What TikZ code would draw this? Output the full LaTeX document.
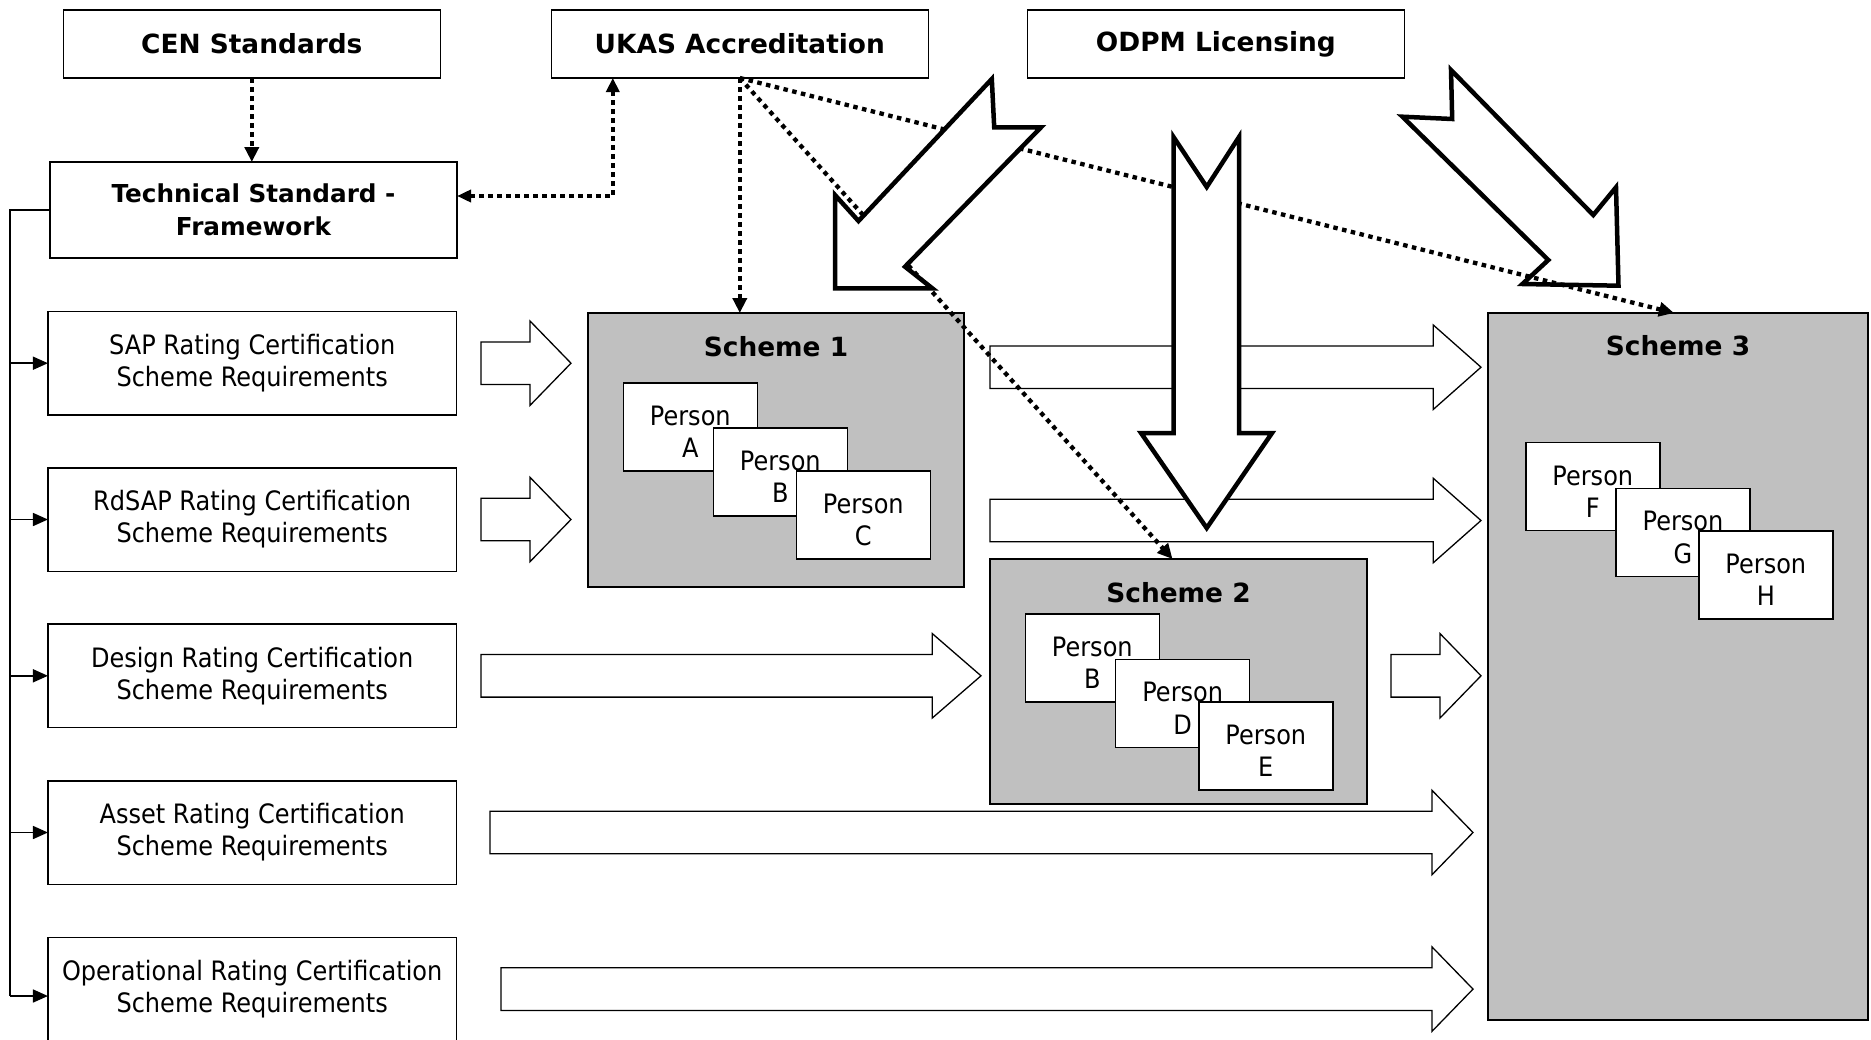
\documentclass[tikz,border=0pt]{standalone}
\usepackage{fontspec}
\usetikzlibrary{arrows.meta,calc}
\newfontfamily\regfont{DejaVu Sans}[FakeStretch=0.9]
\newfontfamily\boldfont{DejaVu Sans}
\definecolor{schemegray}{RGB}{192,192,192}
\newcommand\blkarrow[3]{\draw[blk] let \p1=#1, \p2=#2 in
  (\x1,\y1+21.3pt) -- (\x2-#3,\y1+21.3pt) -- (\x2-#3,\y1+42.2pt) -- (\x2,\y1)
  -- (\x2-#3,\y1-42.2pt) -- (\x2-#3,\y1-21.3pt) -- (\x1,\y1-21.3pt) -- cycle;}
\begin{document}
\begin{tikzpicture}[x=1pt,y=-1pt,
  every node/.style={inner sep=0pt, outer sep=0pt},
  regtext/.style={font=\regfont\fontsize{26.7}{32.2}\selectfont, align=center},
  boldtext/.style={font=\boldfont\bfseries\fontsize{26.4}{32}\selectfont, align=center},
  topbox/.style={draw, line width=1.6pt, fill=white, minimum width=377pt, minimum height=68pt, boldtext},
  techbox/.style={draw, line width=1.6pt, fill=white, minimum width=407pt, minimum height=96pt, align=center,
    font=\boldfont\bfseries\fontsize{24.7}{33.4}\selectfont},
  reqbox/.style={draw, line width=1.6pt, fill=white, minimum width=408.5pt, minimum height=103.6pt, regtext},
  scheme/.style={draw, line width=1.6pt, fill=schemegray},
  schemetitle/.style={boldtext},
  person/.style={draw, line width=1.4pt, fill=white, minimum width=134pt, minimum height=88pt,
    label={[regtext, yshift=-5pt]center:{Person\\#1}}},
  blk/.style={draw, line width=1.3pt, fill=white, line join=miter},
  bigarrow/.style={draw, line width=4.5pt, fill=white, line join=miter, miter limit=10},
  dotline/.style={line width=4.3pt, dash pattern=on 4.5pt off 4.5pt, -{Triangle[length=15pt,width=14pt]}},
  busline/.style={line width=1.6pt},
  busarrow/.style={line width=1.6pt, -{Triangle[length=15pt,width=13pt]}},
]
\useasboundingbox[fill=white] (0,0) rectangle (1871,1039);

% top boxes
\node[topbox] (cen)  at (251.8,44)  {CEN Standards};
\node[topbox] (ukas) at (739.8,44)  {UKAS Accreditation};
\node[topbox] (odpm) at (1215.9,44) {ODPM Licensing};

% left column
\node[techbox] (tech) at (253.5,210) {Technical Standard -\\Framework};
\node[reqbox] (sap)    at (252.2,363.2) {SAP Rating Certification\\Scheme Requirements};
\node[reqbox] (rdsap)  at (252.2,519.5) {RdSAP Rating Certification\\Scheme Requirements};
\node[reqbox] (design) at (252.2,675.8) {Design Rating Certification\\Scheme Requirements};
\node[reqbox] (asset)  at (252.2,832.5) {Asset Rating Certification\\Scheme Requirements};
\node[reqbox] (opbox)  at (252.2,989.1) {Operational Rating Certification\\Scheme Requirements};

% bus
\coordinate (bustop) at (10,210);
\coordinate (busbot) at (10,996);
\draw[busline] (tech.west) -- (bustop) -- (busbot);
\draw[busarrow] (busbot |- sap.west) -- (sap.west);
\draw[busarrow] (busbot |- rdsap.west) -- (rdsap.west);
\draw[busarrow] (busbot |- design.west) -- (design.west);
\draw[busarrow] (busbot |- asset.west) -- (asset.west);
\draw[busarrow] (busbot) -- (busbot -| opbox.west);

% schemes
\node[scheme, minimum width=376pt, minimum height=274pt] (s1) at (776,450) {};
\node[schemetitle] (s1t) at ($(s1.north)+(0,34)$) {Scheme 1};
\node[person=A] (pa) at (690.3,426.8) {};
\node[person=B] (pb) at (780.3,471.8) {};
\node[person=C] (pc) at (863.3,515) {};

\node[scheme, minimum width=377pt, minimum height=245pt] (s2) at (1178.5,681.5) {};
\node[schemetitle] (s2t) at ($(s2.north)+(0,34)$) {Scheme 2};
\node[person=B] (pb2) at (1092.3,657.8) {};
\node[person=D] (pd) at (1182.7,703.2) {};
\node[person=E] (pe) at (1265.8,745.8) {};

\node[scheme, minimum width=380pt, minimum height=707pt] (s3) at (1678,666.5) {};
\node[schemetitle] (s3t) at ($(s3.north)+(0,33)$) {Scheme 3};
\node[person=F] (pf) at (1592.8,486.7) {};
\node[person=G] (pg) at (1683,532.5) {};
\node[person=H] (ph) at (1765.8,574.8) {};

% small block arrows
\blkarrow{($(sap.east)+(24.5,0)$)}{($(s1.west |- sap.east)+(-17,0)$)}{41pt}
\blkarrow{($(rdsap.east)+(24.5,0)$)}{($(s1.west |- rdsap.east)+(-17,0)$)}{41pt}
\blkarrow{($(design.east)+(24.5,0)$)}{($(s2.west |- design.east)+(-9,0)$)}{48.7pt}
\blkarrow{($(asset.east)+(33.5,0)$)}{($(s3.west |- asset.east)+(-15,0)$)}{41pt}
\blkarrow{($(opbox.east)+(44.5,0)$)}{($(s3.west |- opbox.east)+(-15,0)$)}{41pt}
\blkarrow{($(s1.east |- sap.east)+(26,4)$)}{($(s3.west |- sap.east)+(-7,4)$)}{47.7pt}
\blkarrow{($(s1.east |- rdsap.east)+(26,1)$)}{($(s3.west |- rdsap.east)+(-7,1)$)}{47.7pt}
\blkarrow{($(s2.east |- design.east)+(24,0)$)}{($(s3.west |- design.east)+(-7,0)$)}{41pt}

% licensing arrow to scheme 3
\draw[bigarrow] (1451,70) -- (1452.2,119) -- (1402.4,116.7) -- (1548.3,260) -- (1522.4,284)
  -- (1618.5,285.7) -- (1616,187.3) -- (1593.3,215) -- cycle;

% dotted connectors
\draw[dotline] (cen.south) -- (cen.south |- tech.north);
\draw[dotline, {Triangle[length=14pt,width=13pt]}-{Triangle[length=14pt,width=12pt]}]
  ($(ukas.south)+(-127,0)$) |- ($(tech.east)+(0,-14)$);
\draw[dotline] (ukas.south) -- (ukas.south |- s1.north);
\draw[dotline] (ukas.south) -- ($(s2.north)+(-6,0)$);
\draw[dotline] (ukas.south) -- ($(s3.north)+(-4,0)$);

% licensing arrows to scheme 1 and scheme 2
\draw[bigarrow] (991.8,79) -- (994.2,127.3) -- (1041,127.3) -- (905,266.7) -- (932.3,288.3)
  -- (835,288.3) -- (835,195) -- (858.5,221) -- cycle;
\draw[bigarrow] (1173.5,137) -- (1206.7,187) -- (1239,137) -- (1239,433) -- (1272,433)
  -- (1206.7,528) -- (1141,433) -- (1173.5,433) -- cycle;
\end{tikzpicture}
\end{document}
